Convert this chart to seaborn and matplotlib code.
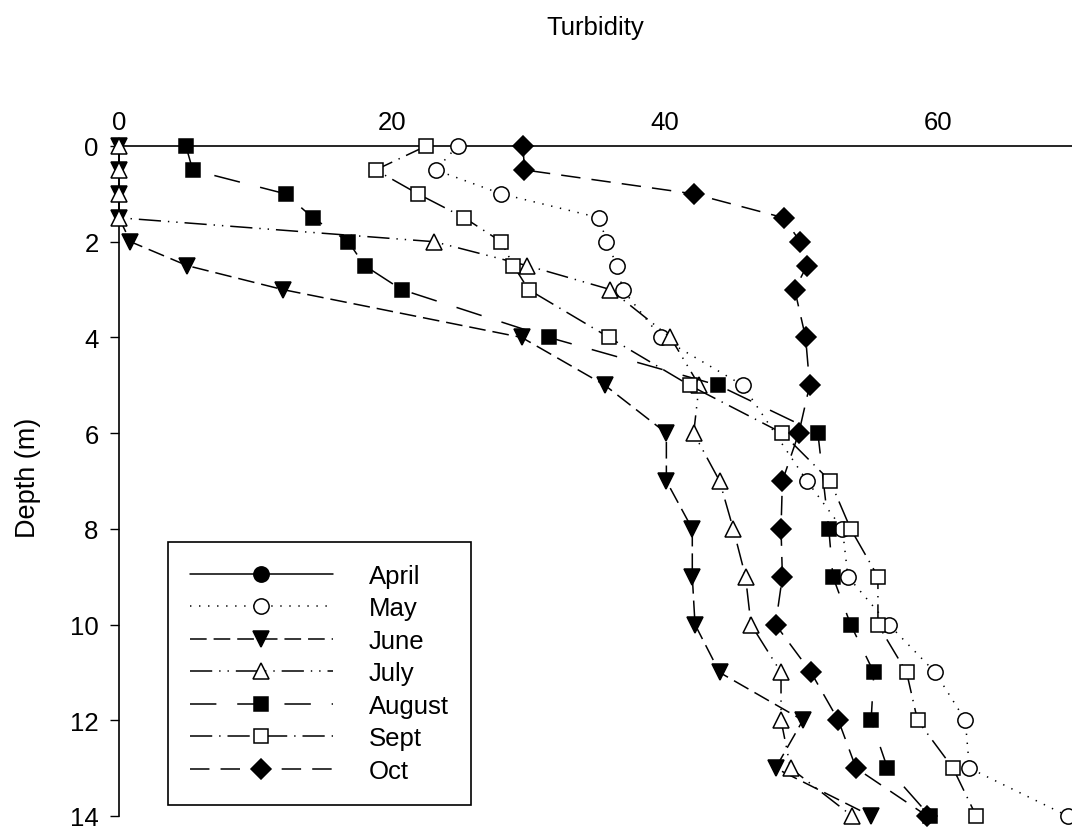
import matplotlib
matplotlib.use("Agg")
import matplotlib.pyplot as plt
from matplotlib.lines import Line2D
import seaborn as sns

# ---------------- data ----------------
months = ["April", "May", "June", "July", "August", "Sept", "Oct"]

april_depth = []
april_turb = []

may_depth = [0, 0.5, 1, 1.5, 2, 2.5, 3, 4, 5, 7, 8, 9, 10, 11, 12, 13, 14]
may_turb = [24.8, 23.2, 28.0, 35.2, 35.7, 36.5, 36.9, 39.7, 45.7, 50.4, 53.0, 53.4, 56.4, 59.8, 62.0, 62.3, 69.5]

june_depth = [0, 0.5, 1, 1.5, 2, 2.5, 3, 4, 5, 6, 7, 8, 9, 10, 11, 12, 13, 14]
june_turb = [0, 0, 0, 0, 0.84, 5.0, 12.0, 29.5, 35.6, 40.1, 40.1, 42.0, 42.0, 42.2, 44.0, 50.1, 48.1, 55.1]

july_depth = [0, 0.5, 1, 1.5, 2, 2.5, 3, 4, 5, 6, 7, 8, 9, 10, 11, 12, 13, 14]
july_turb = [0, 0, 0, 0, 23.1, 29.9, 36.0, 40.4, 42.5, 42.1, 44.0, 45.0, 45.9, 46.3, 48.5, 48.5, 49.2, 53.7]

august_depth = [0, 0.5, 1, 1.5, 2, 2.5, 3, 4, 5, 6, 8, 9, 10, 11, 12, 13, 14]
august_turb = [4.9, 5.4, 12.2, 14.2, 16.8, 18.0, 20.7, 31.5, 43.9, 51.2, 52.0, 52.3, 53.6, 55.3, 55.1, 56.3, 59.4]

sept_depth = [0, 0.5, 1, 1.5, 2, 2.5, 3, 4, 5, 6, 7, 8, 9, 10, 11, 12, 13, 14]
sept_turb = [22.5, 18.8, 21.9, 25.3, 28.0, 28.9, 30.0, 35.9, 41.8, 48.6, 52.1, 53.6, 55.6, 55.6, 57.7, 58.5, 61.1, 62.8]

oct_depth = [0, 0.5, 1, 1.5, 2, 2.5, 3, 4, 5, 6, 7, 8, 9, 10, 11, 12, 13, 14]
oct_turb = [29.6, 29.7, 42.1, 48.7, 49.9, 50.4, 49.5, 50.3, 50.6, 49.8, 48.6, 48.5, 48.6, 48.1, 50.7, 52.7, 54.0, 59.2]

x_ticks = [0, 20, 40, 60]
y_ticks = [0, 2, 4, 6, 8, 10, 12, 14]

# ---------------- style ----------------
sns.set_theme(style="white")
plt.rcParams["font.family"] = ["Liberation Sans", "DejaVu Sans"]
plt.rcParams["lines.scale_dashes"] = False
plt.rcParams["text.color"] = "black"
plt.rcParams["axes.labelcolor"] = "black"
plt.rcParams["xtick.color"] = "black"
plt.rcParams["ytick.color"] = "black"

FS = 18.5
LW = 1.1
MS = 11
MEW = 1.1

styles = {
    "April":  dict(marker="o", mfc="black", dashes=None),
    "May":    dict(marker="o", mfc="white", dashes=(1, 5.5)),
    "June":   dict(marker="v", mfc="black", dashes=(12, 5)),
    "July":   dict(marker="^", mfc="white", dashes=(16, 5, 1, 5, 1, 5)),
    "August": dict(marker="s", mfc="black", dashes=(19, 15)),
    "Sept":   dict(marker="s", mfc="white", dashes=(16, 5, 1, 5)),
    "Oct":    dict(marker="D", mfc="black", dashes=(14, 8)),
}
sizes = {"D": 10.0, "s": 10.5}

series = {
    "April": (april_depth, april_turb),
    "May": (may_depth, may_turb),
    "June": (june_depth, june_turb),
    "July": (july_depth, july_turb),
    "August": (august_depth, august_turb),
    "Sept": (sept_depth, sept_turb),
    "Oct": (oct_depth, oct_turb),
}

W, H = 1072, 829
fig = plt.figure(figsize=(W / 100, H / 100), dpi=100)
ax = fig.add_axes([119 / W, 1 - 817 / H, 1 - 119 / W, (817 - 147) / H])

def line_kws(name):
    st = styles[name]
    kw = dict(color="black", linewidth=LW, marker=st["marker"],
              markersize=sizes.get(st["marker"], MS),
              markerfacecolor=st["mfc"], markeredgecolor="black",
              markeredgewidth=MEW)
    if st["dashes"] is None:
        kw["linestyle"] = "-"
    else:
        kw["dashes"] = st["dashes"]
    return kw

for name in months:
    depth, turb = series[name]
    if len(depth) == 0:
        continue
    sns.lineplot(x=turb, y=depth, ax=ax, orient="y", sort=False,
                 estimator=None, legend=False, clip_on=False, zorder=3,
                 **line_kws(name))

ax.set_xlim(0, (W - 119) / 13.65)
ax.set_ylim(14, 0)
ax.xaxis.tick_top()
ax.set_xticks(x_ticks)
ax.set_yticks(y_ticks)
ax.tick_params(axis="x", length=0, pad=9, labelsize=FS, colors="black")
ax.tick_params(axis="y", direction="out", length=6.7, width=1.0, pad=8,
               labelsize=FS, colors="black", left=True)
for s in ["bottom", "right"]:
    ax.spines[s].set_visible(False)
for s in ["top", "left"]:
    ax.spines[s].set_color("black")
    ax.spines[s].set_linewidth(1.2)
ax.set_xlabel("")
ax.set_ylabel("")
ax.grid(False)

fig.text(595 / W, 1 - 28 / H, "Turbidity", ha="center", va="center",
         fontsize=FS, color="black")
fig.text(28 / W, 1 - 478 / H, "Depth (m)", ha="center", va="center",
         rotation=90, fontsize=FS + 1, color="black")

handles = [Line2D([], [], label=n, **line_kws(n)) for n in months]
leg = ax.legend(handles=handles, loc="upper left",
                bbox_to_anchor=(168 / W, 1 - 543 / H), bbox_transform=fig.transFigure,
                borderaxespad=0, frameon=True, fancybox=False, shadow=False,
                fontsize=FS, handlelength=5.57, handletextpad=1.4,
                labelspacing=0.33, borderpad=0.85, numpoints=1,
                labelcolor="black")
leg.get_frame().set_edgecolor("black")
leg.get_frame().set_linewidth(1.2)
leg.get_frame().set_facecolor("white")
leg.get_frame().set_alpha(1)

fig.savefig("out.png", dpi=100)
